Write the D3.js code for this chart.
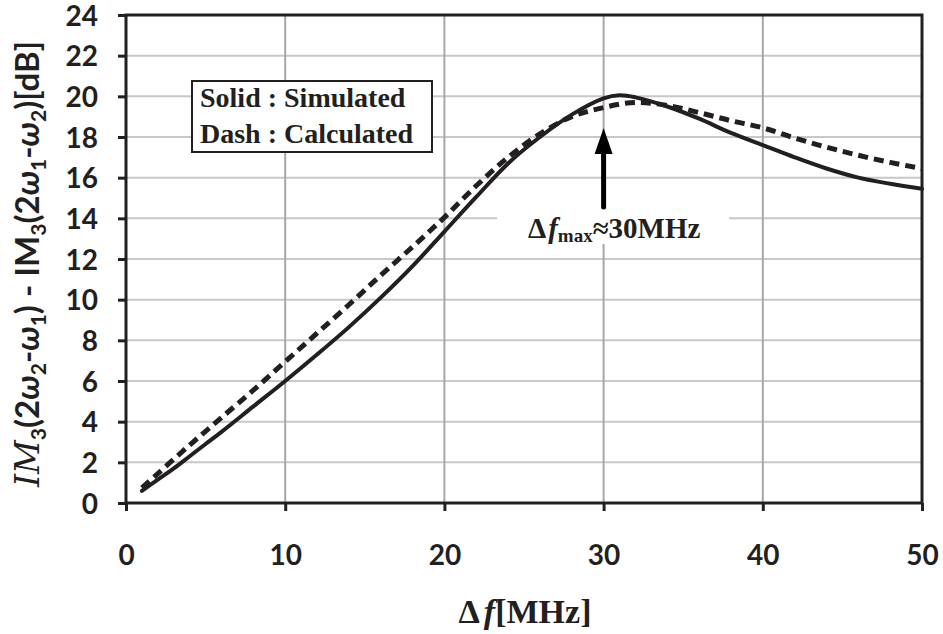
<!DOCTYPE html>
<meta charset="utf-8">
<style>
body { margin: 0; background: #fff; }
.tick text { font: bold 28px Lato, sans-serif; fill: #231f20; }
.grid-h line { stroke: #c8c8c8; stroke-width: 2px; }
.grid-v line { stroke: #a6a6a6; stroke-width: 2px; }
.serif { font-family: "Liberation Serif", "Times New Roman", serif; font-weight: bold; fill: #231f20; }
</style>
<body>
<svg width="943" height="634"></svg>
<script src="https://cdn.jsdelivr.net/npm/d3@7"></script>
<script>

// simulated (solid)
let simX = [1, 2, 3, 4, 5, 6, 8, 10, 12, 14, 16, 18, 20, 22, 24, 26, 28, 30, 31, 32, 34, 36, 38, 40, 42, 44, 46, 48, 50];
let simY = [0.6, 1.15, 1.7, 2.3, 2.9, 3.5, 4.75, 6.0, 7.3, 8.65, 10.1, 11.65, 13.35, 15.05, 16.7, 18.0, 19.1, 19.9, 20.05, 19.95, 19.5, 18.9, 18.2, 17.6, 17.0, 16.45, 16.0, 15.7, 15.45];

// calculated (dash)
let calX = [1, 2, 4, 6, 8, 10, 12, 14, 16, 18, 20, 22, 24, 26, 28, 30, 32, 34, 36, 38, 40, 42, 44, 46, 48, 50];
let calY = [0.75, 1.45, 2.85, 4.2, 5.55, 6.95, 8.35, 9.75, 11.2, 12.6, 14.05, 15.6, 17.0, 18.15, 19.0, 19.45, 19.7, 19.55, 19.2, 18.8, 18.45, 17.95, 17.5, 17.1, 16.75, 16.45];

let xTicks = [0, 10, 20, 30, 40, 50];
let yTicks = [0, 2, 4, 6, 8, 10, 12, 14, 16, 18, 20, 22, 24];

let peakX = 30;

const svg = d3.select('svg');
const mLeft = 126, mRight = 922, mTop = 15, mBottom = 503;

const x = d3.scaleLinear().domain([0, 50]).range([mLeft, mRight]);
const y = d3.scaleLinear().domain([0, 24]).range([mBottom, mTop]);

// grid
svg.append('g').attr('class', 'grid-h')
  .selectAll('line').data(yTicks.slice(1, -1)).join('line')
  .attr('x1', mLeft).attr('x2', mRight)
  .attr('y1', d => y(d)).attr('y2', d => y(d));

svg.append('g').attr('class', 'grid-v')
  .selectAll('line').data(xTicks.slice(1, -1)).join('line')
  .attr('y1', mTop).attr('y2', mBottom)
  .attr('x1', d => x(d)).attr('x2', d => x(d));

// white box behind annotation text
svg.append('rect')
  .attr('x', 497).attr('y', 206).attr('width', 232).attr('height', 38)
  .attr('fill', '#fff');

// curves
const line = d3.line()
  .x(d => x(d[0])).y(d => y(d[1]))
  .curve(d3.curveCatmullRom);

svg.append('path')
  .datum(simX.map((v, i) => [v, simY[i]]))
  .attr('d', line)
  .attr('fill', 'none').attr('stroke', '#231f20').attr('stroke-width', 4)
  .attr('stroke-linecap', 'round');

svg.append('path')
  .datum(calX.map((v, i) => [v, calY[i]]))
  .attr('d', line)
  .attr('fill', 'none').attr('stroke', '#231f20').attr('stroke-width', 5)
  .attr('stroke-dasharray', '10 6');

// frame
svg.append('rect')
  .attr('x', mLeft).attr('y', mTop).attr('width', mRight - mLeft).attr('height', mBottom - mTop)
  .attr('fill', 'none').attr('stroke', '#231f20').attr('stroke-width', 3);

// axes
const yAxis = svg.append('g')
  .attr('transform', `translate(${mLeft},0)`)
  .call(d3.axisLeft(y).tickValues(yTicks).tickSize(8).tickPadding(20));
const xAxis = svg.append('g')
  .attr('transform', `translate(0,${mBottom})`)
  .call(d3.axisBottom(x).tickValues(xTicks).tickSize(8).tickPadding(34));
[yAxis, xAxis].forEach(a => {
  a.select('.domain').remove();
  a.selectAll('.tick line').attr('stroke', '#231f20').attr('stroke-width', 3);
});
yAxis.selectAll('.tick text').attr('dy', '0.36em');

// legend
svg.append('rect')
  .attr('x', 192).attr('y', 81).attr('width', 240).attr('height', 71)
  .attr('fill', '#fff').attr('stroke', '#231f20').attr('stroke-width', 2);
svg.append('text').attr('class', 'serif').attr('x', 200).attr('y', 107)
  .style('font-size', '28px').text('Solid : Simulated');
svg.append('text').attr('class', 'serif').attr('x', 200).attr('y', 143)
  .style('font-size', '28px').text('Dash : Calculated');

// arrow annotation
const ax = x(peakX);
svg.append('line')
  .attr('x1', ax).attr('x2', ax).attr('y1', 207).attr('y2', 150)
  .attr('stroke', '#000').attr('stroke-width', 5).attr('stroke-linecap', 'round');
svg.append('path')
  .attr('d', `M${ax - 9},154 L${ax + 9},154 L${ax},128 Z`)
  .attr('fill', '#000');

const ann = svg.append('text').attr('class', 'serif').attr('x', 528).attr('y', 238)
  .style('font-size', '29px');
ann.append('tspan').text('Δ');
ann.append('tspan').attr('dx', 2).style('font-style', 'italic').text('f');
ann.append('tspan').attr('dy', 4).style('font-size', '19px').text('max');
ann.append('tspan').attr('dy', -4).text('≈30MHz');

// x title
const xt = svg.append('text').attr('class', 'serif')
  .attr('x', 525).attr('y', 623).attr('text-anchor', 'middle')
  .style('font-size', '34px');
xt.append('tspan').text('Δ');
xt.append('tspan').attr('dx', 4).style('font-style', 'italic').text('f');
xt.append('tspan').text('[MHz]');

// y title
const yt = svg.append('text')
  .attr('transform', 'translate(39,264) rotate(-90)')
  .attr('text-anchor', 'middle')
  .style('font', 'bold 33px Lato, sans-serif').style('fill', '#231f20');
const sub = (t) => yt.append('tspan').attr('dy', 7).style('font-size', '21px').text(t);
yt.append('tspan').style('font-family', '"DejaVu Serif", serif').style('font-style', 'italic').style('font-weight', 'normal').text('IM');
sub('3');
yt.append('tspan').attr('dy', -7).text('(2');
yt.append('tspan').style('font-style', 'italic').text('ω');
sub('2');
yt.append('tspan').attr('dy', -7).text('-');
yt.append('tspan').style('font-style', 'italic').text('ω');
sub('1');
yt.append('tspan').attr('dy', -7).text(') - IM');
sub('3');
yt.append('tspan').attr('dy', -7).text('(2');
yt.append('tspan').style('font-style', 'italic').text('ω');
sub('1');
yt.append('tspan').attr('dy', -7).text('-');
yt.append('tspan').style('font-style', 'italic').text('ω');
sub('2');
yt.append('tspan').attr('dy', -7).text(')[dB]');

</script>
</body>
